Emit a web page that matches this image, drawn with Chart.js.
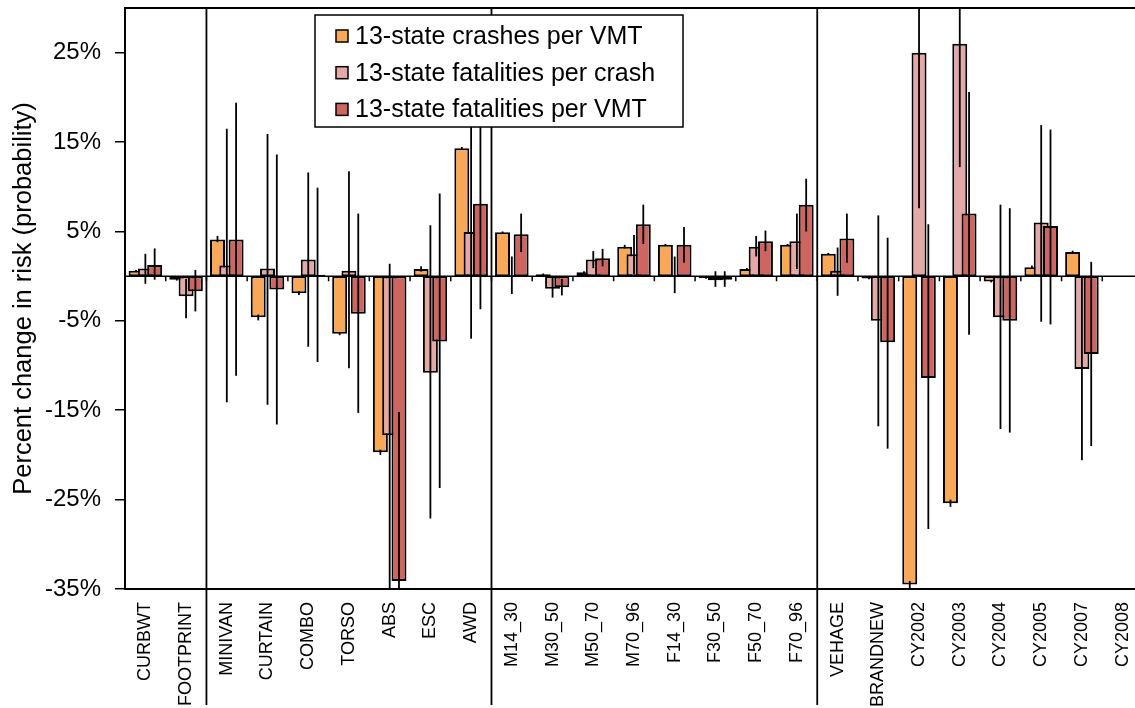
<!DOCTYPE html>
<html>
<head>
  <meta charset="utf-8">
  <title>Percent change in risk</title>
  <script src="https://cdn.jsdelivr.net/npm/chart.js"></script>
  <style>
    html, body { margin: 0; padding: 0; overflow: hidden; background: #fff; }
    #wrap { width: 1160px; height: 708px; }
  </style>
</head>
<body>
<div id="wrap"><canvas id="myChart"></canvas></div>

<script>
  const categories = ['CURBWT', 'FOOTPRINT', 'MINIVAN', 'CURTAIN', 'COMBO', 'TORSO', 'ABS', 'ESC', 'AWD',
    'M14_30', 'M30_50', 'M50_70', 'M70_96', 'F14_30', 'F30_50', 'F50_70', 'F70_96',
    'VEHAGE', 'BRANDNEW', 'CY2002', 'CY2003', 'CY2004', 'CY2005', 'CY2007', 'CY2008'];

  // first category of each new block of variables (a divider goes before it)
  const groupStarts = [2, 9, 17];

  const yTicks = [-35, -25, -15, -5, 5, 15, 25];

  // 13-state crashes per VMT
  const crashesVmt     = [0.6, -0.4, 4.1, -4.6, -1.9, -6.45, -19.7, 0.8, 14.3, 4.9, 0.2, 0.45, 3.3, 3.5, -0.2, 0.8, 3.5, 2.5, -0.25, -34.5, -25.4, -0.6, 1.0, 2.7, null];
  const crashesVmtLow  = [0.5, -0.5, 3.8, -4.95, -2.1, -6.6, -20.0, 0.5, 14.15, 4.8, 0.1, 0.35, 3.1, 3.4, -0.3, 0.7, 3.4, 2.4, -0.35, -34.9, -25.8, -0.7, 0.8, 2.55, null];
  const crashesVmtHigh = [0.7, -0.3, 4.5, -4.3, -1.7, -6.3, -19.4, 1.1, 14.45, 5.0, 0.3, 0.55, 3.5, 3.6, -0.1, 0.9, 3.6, 2.6, -0.15, -34.1, -25.0, -0.5, 1.2, 2.85, null];

  // 13-state fatalities per crash
  const fatalCrash     = [0.85, -2.25, 1.2, 0.85, 1.85, 0.6, -17.8, -10.8, 4.95, 0.1, -1.4, 1.85, 2.45, 0.1, -0.45, 3.3, 3.9, 0.6, -5.0, 25.0, 26.0, -4.6, 6.0, -10.4, null];
  const fatalCrashLow  = [-0.85, -4.7, -14.1, -14.4, -7.9, -10.3, -40, -27.1, -7.0, -2.0, -2.4, 0.9, 0.2, -1.9, -1.2, 2.2, 0.8, -2.2, -16.8, 7.6, 12.2, -17.1, -5.1, -20.6, null];
  const fatalCrashHigh = [2.5, -0.3, 16.5, 15.9, 11.6, 11.75, 1.4, 5.7, 16.9, 2.2, -0.2, 2.8, 4.6, 2.2, 0.55, 4.5, 7.0, 3.2, 6.8, 42, 40, 8.0, 16.9, -0.2, null];

  // 13-state fatalities per VMT
  const fatalVmt     = [1.25, -1.7, 4.1, -1.5, 0.17, -4.2, -34.1, -7.3, 8.1, 4.7, -1.25, 2.0, 5.8, 3.5, -0.4, 3.9, 8.0, 4.2, -7.4, -11.4, 7.0, -5.0, 5.6, -8.7, null];
  const fatalVmtLow  = [-0.4, -3.95, -11.15, -16.6, -9.6, -15.3, -45, -23.7, -3.7, 2.7, -2.15, 1.1, 3.6, 1.5, -1.2, 2.8, 5.0, 1.5, -19.3, -28.3, -6.55, -17.5, -5.4, -19.0, null];
  const fatalVmtHigh = [3.1, 0.7, 19.4, 13.6, 9.9, 7.0, -15.2, 9.25, 19.9, 7.0, -0.3, 3.05, 8.0, 5.5, 0.55, 5.1, 10.9, 7.0, 4.3, 5.8, 20.6, 7.6, 16.4, 1.6, null];

  const FONT = '"Liberation Sans", Arial, sans-serif';

  // error bars: one thin vertical line through the middle of each bar
  function drawErrors(chart, i) {
    const ds = chart.data.datasets[i];
    const y = chart.scales.y;
    const ctx = chart.ctx;
    ctx.save();
    ctx.strokeStyle = '#000';
    ctx.lineWidth = 1.8;
    chart.getDatasetMeta(i).data.forEach((bar, k) => {
      if (ds.data[k] == null) return;
      ctx.beginPath();
      ctx.moveTo(bar.x, y.getPixelForValue(ds.errLow[k]));
      ctx.lineTo(bar.x, y.getPixelForValue(ds.errHigh[k]));
      ctx.stroke();
    });
    ctx.restore();
  }

  const framePlugin = {
    id: 'frame',
    // draw series in order (later series on top), each followed by its error bars
    beforeDatasetsDraw(chart) {
      const { ctx, chartArea: a } = chart;
      ctx.save();
      ctx.beginPath();
      ctx.rect(a.left, a.top, a.right - a.left, a.bottom - a.top);
      ctx.clip();
      chart.data.datasets.forEach((ds, i) => {
        chart.getDatasetMeta(i).controller.draw();
        drawErrors(chart, i);
      });
      ctx.restore();
      return false;
    },
    afterDraw(chart) {
      const { ctx, chartArea: a } = chart;
      const x = chart.scales.x, y = chart.scales.y;
      const step = x.getPixelForValue(1) - x.getPixelForValue(0);
      const y0 = y.getPixelForValue(0);
      ctx.save();
      ctx.strokeStyle = '#000';

      // zero line with small ticks between categories
      ctx.lineWidth = 1.5;
      ctx.beginPath();
      ctx.moveTo(a.left, y0);
      ctx.lineTo(a.right, y0);
      for (let i = 0; i <= categories.length; i++) {
        const bx = x.getPixelForValue(i) - step / 2;
        ctx.moveTo(bx, y0);
        ctx.lineTo(bx, y0 + 5);
      }
      ctx.stroke();

      // top border
      ctx.lineWidth = 2;
      ctx.beginPath();
      ctx.moveTo(a.left, a.top);
      ctx.lineTo(a.right, a.top);
      ctx.stroke();

      // dividers between variable blocks, down through the label area
      ctx.lineWidth = 1.8;
      groupStarts.forEach(g => {
        const bx = x.getPixelForValue(g) - step / 2;
        ctx.beginPath();
        ctx.moveTo(bx, a.top);
        ctx.lineTo(bx, chart.height - 3);
        ctx.stroke();
      });

      // legend box
      const lx = 315, ly = 15, lw = 368, lh = 112;
      ctx.fillStyle = '#fff';
      ctx.fillRect(lx, ly, lw, lh);
      ctx.lineWidth = 1.5;
      ctx.strokeRect(lx, ly, lw, lh);
      ctx.font = '25px ' + FONT;
      ctx.textBaseline = 'middle';
      chart.data.datasets.forEach((ds, i) => {
        const cy = ly + 21 + i * 36.7;
        ctx.fillStyle = ds.backgroundColor;
        ctx.fillRect(lx + 21, cy - 6, 12, 12);
        ctx.strokeRect(lx + 21, cy - 6, 12, 12);
        ctx.fillStyle = '#000';
        ctx.fillText(ds.label, lx + 40, cy + 1);
      });
      ctx.restore();
    }
  };

  function series(label, data, low, high, color) {
    return {
      label: label,
      data: data,
      errLow: low,
      errHigh: high,
      backgroundColor: color,
      borderColor: '#000',
      borderWidth: 2,
      borderSkipped: false,
      barPercentage: 1.61,
      categoryPercentage: 0.685
    };
  }

  new Chart(document.getElementById('myChart'), {
    type: 'bar',
    data: {
      labels: categories,
      datasets: [
        series('13-state crashes per VMT', crashesVmt, crashesVmtLow, crashesVmtHigh, '#F9A857'),
        series('13-state fatalities per crash', fatalCrash, fatalCrashLow, fatalCrashHigh, '#E3A9A7'),
        series('13-state fatalities per VMT', fatalVmt, fatalVmtLow, fatalVmtHigh, '#CD6661')
      ]
    },
    options: {
      responsive: true,
      maintainAspectRatio: false,
      animation: false,
      layout: { padding: { top: 8, right: 17, left: 0, bottom: 0 } },
      plugins: { legend: { display: false }, tooltip: { enabled: false } },
      scales: {
        x: {
          grid: { display: false, drawTicks: false },
          border: { display: true, color: '#000', width: 2 },
          ticks: {
            minRotation: 90, maxRotation: 90, autoSkip: false,
            padding: 13, color: '#000',
            font: { family: FONT, size: 18 }
          },
          afterFit: s => { s.height = 119; }
        },
        y: {
          min: -35,
          max: 30,
          afterBuildTicks: s => { s.ticks = yTicks.map(v => ({ value: v })); },
          grid: { drawOnChartArea: false, drawTicks: true, tickLength: 10, color: '#000', lineWidth: 1.5 },
          border: { display: true, color: '#000', width: 2 },
          ticks: {
            padding: 14, color: '#000',
            font: { family: FONT, size: 24 },
            callback: v => v + '%'
          },
          title: {
            display: true,
            text: 'Percent change in risk (probability)',
            color: '#000',
            font: { family: FONT, size: 25.5 },
            padding: { top: 9, bottom: 0 }
          },
          afterFit: s => { s.width = 125; s.paddingTop = 0; s.paddingBottom = 0; }
        }
      }
    },
    plugins: [framePlugin]
  });
</script>
</body>
</html>
